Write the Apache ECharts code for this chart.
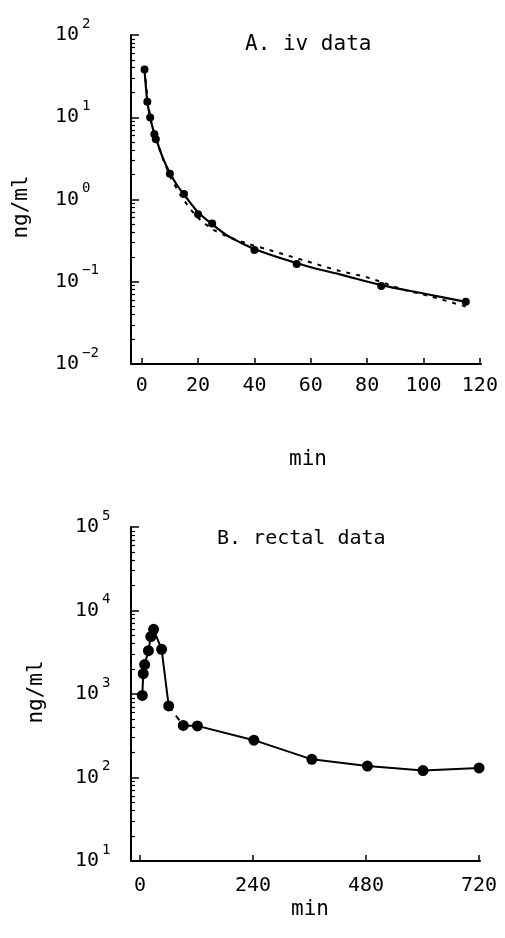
<!DOCTYPE html>
<html>
<head>
<meta charset="utf-8">
<script src="https://cdn.jsdelivr.net/npm/echarts@6/dist/echarts.min.js"></script>
<style>
html,body{margin:0;padding:0;background:#fff;}
#chart{width:505px;height:938px;}
</style>
</head>
<body>
<div id="chart"></div>
<script>
// ---- Panel A: iv data ----
const ivTimes = [1, 2, 3, 4.5, 5, 10, 15, 20, 25, 40, 55, 85, 115];
const ivConc = [38, 15.4, 9.9, 6.2, 5.4, 2.05, 1.17, 0.66, 0.51, 0.244, 0.164, 0.089, 0.057];
const ivFitSolidTimes = [1, 2, 3, 4, 5, 7.5, 10, 12.5, 15, 20, 25, 30, 35, 40, 50, 60, 70, 85, 100, 115];
const ivFitSolid = [38, 15.5, 10, 7.2, 5.6, 3.2, 2.1, 1.5, 1.15, 0.7, 0.5, 0.37, 0.3, 0.25, 0.19, 0.15, 0.124, 0.091, 0.072, 0.057];
const ivFitDotTimes = [1, 3, 5, 10, 15, 20, 25, 30, 38, 45, 58, 70, 80, 94, 100, 115];
const ivFitDot = [38, 10, 5.5, 1.95, 0.98, 0.6, 0.44, 0.36, 0.288, 0.245, 0.18, 0.136, 0.113, 0.078, 0.07, 0.05];
const ivXTicks = [0, 20, 40, 60, 80, 100, 120];
const ivDecades = [-2, -1, 0, 1, 2];

// ---- Panel B: rectal data ----
const rectalTimes = [5, 7, 10, 18, 23, 29, 46, 61, 92, 122, 242, 365, 483, 601, 720];
const rectalConc = [960, 1750, 2250, 3300, 4870, 5960, 3430, 720, 420, 415, 280, 165, 137, 121, 130];
const rectalDashedFrom = 7; // segment 61 -> 92 min drawn dashed
const rectalXTicks = [0, 240, 480, 720];
const rectalDecades = [1, 2, 3, 4, 5];

const FONT = 'DejaVu Sans Mono';
const pairs = (xs, ys) => xs.map((x, i) => [x, ys[i]]);
function minorValues(decades) {
  const out = [];
  for (let i = 0; i < decades.length - 1; i++) {
    for (let m = 2; m <= 9; m++) out.push(m * Math.pow(10, decades[i]));
  }
  return out;
}

function supFmt(v) {
  const e = Math.round(Math.log10(v));
  const s = e < 0 ? '\u2212' + (-e) : String(e);
  return '{b|10}{s|' + s + '}';
}
const rich = {
  b: {fontFamily: FONT, fontSize: 20, lineHeight: 36, verticalAlign: 'middle', color: '#000'},
  s: {fontFamily: FONT, fontSize: 14, lineHeight: 14, verticalAlign: 'top', color: '#000', padding: [0, 0, 0, 3]}
};

function yAxisCfg(grid, decades, margin) {
  return {
    type: 'log', logBase: 10, gridIndex: grid, position: 'left',
    min: Math.pow(10, decades[0]), max: Math.pow(10, decades[decades.length - 1]),
    axisLine: {show: true, onZero: false, lineStyle: {color: '#000', width: 2}},
    axisTick: {show: true, inside: true, length: 8, lineStyle: {color: '#000', width: 1.5}},
    axisLabel: {align: 'left', margin: margin, formatter: supFmt, rich: rich},
    splitLine: {show: false}
  };
}
function yMinorCfg(grid, decades) {
  return {
    type: 'log', logBase: 10, gridIndex: grid, position: 'left', offset: 0,
    min: Math.pow(10, decades[0]), max: Math.pow(10, decades[decades.length - 1]),
    axisLine: {show: false, onZero: false},
    axisTick: {show: true, inside: true, length: 4, customValues: minorValues(decades), lineStyle: {color: '#000', width: 1.2}},
    axisLabel: {show: false},
    splitLine: {show: false}
  };
}
function xAxisCfg(grid, min, max, ticks, margin) {
  return {
    type: 'value', gridIndex: grid, min: min, max: max,
    axisLine: {show: true, onZero: false, lineStyle: {color: '#000', width: 2}},
    axisTick: {show: true, inside: true, length: 6, customValues: ticks, lineStyle: {color: '#000', width: 1.5}},
    axisLabel: {customValues: ticks, margin: margin, fontFamily: FONT, fontSize: 20, color: '#000'},
    splitLine: {show: false}
  };
}

const chart = echarts.init(document.getElementById('chart'), null, {renderer: 'canvas'});
const rPts = pairs(rectalTimes, rectalConc);

chart.setOption({
  backgroundColor: '#fff',
  animation: false,
  grid: [
    {left: 131, right: 24, top: 35, bottom: 574},
    {left: 131, right: 25, top: 527, bottom: 77}
  ],
  xAxis: [
    xAxisCfg(0, -3.8, 120.4, ivXTicks, 12),
    xAxisCfg(1, -19, 722, rectalXTicks, 15)
  ],
  yAxis: [
    yAxisCfg(0, ivDecades, 76),
    yAxisCfg(1, rectalDecades, 56),
    yMinorCfg(0, ivDecades),
    yMinorCfg(1, rectalDecades)
  ],
  graphic: [
    {type: 'text', left: 245, top: 34, style: {text: 'A. iv data', fontFamily: FONT, fontSize: 21, fill: '#000'}},
    {type: 'text', left: 217, top: 529, style: {text: 'B. rectal data', fontFamily: FONT, fontSize: 20, fill: '#000'}},
    {type: 'text', x: 308, y: 460, style: {text: 'min', fontFamily: FONT, fontSize: 21, fill: '#000', align: 'center', verticalAlign: 'middle'}},
    {type: 'text', x: 310, y: 910, style: {text: 'min', fontFamily: FONT, fontSize: 21, fill: '#000', align: 'center', verticalAlign: 'middle'}},
    {type: 'text', x: 22, y: 207, rotation: Math.PI / 2, style: {text: 'ng/ml', fontFamily: FONT, fontSize: 21, fill: '#000', align: 'center', verticalAlign: 'middle'}},
    {type: 'text', x: 37, y: 692, rotation: Math.PI / 2, style: {text: 'ng/ml', fontFamily: FONT, fontSize: 21, fill: '#000', align: 'center', verticalAlign: 'middle'}}
  ],
  series: [
    {type: 'line', xAxisIndex: 0, yAxisIndex: 0, data: pairs(ivFitDotTimes, ivFitDot), smooth: 0.3, showSymbol: false,
     lineStyle: {color: '#000', width: 2, type: [4, 6]}},
    {type: 'line', xAxisIndex: 0, yAxisIndex: 0, data: pairs(ivFitSolidTimes, ivFitSolid), smooth: 0.3, showSymbol: false,
     lineStyle: {color: '#000', width: 2.2}},
    {type: 'scatter', xAxisIndex: 0, yAxisIndex: 0, data: pairs(ivTimes, ivConc), symbol: 'circle', symbolSize: 8,
     itemStyle: {color: '#000', opacity: 1}},
    {type: 'line', xAxisIndex: 1, yAxisIndex: 1, data: rPts.slice(0, rectalDashedFrom + 1), showSymbol: false,
     lineStyle: {color: '#000', width: 2}},
    {type: 'line', xAxisIndex: 1, yAxisIndex: 1, data: rPts.slice(rectalDashedFrom, rectalDashedFrom + 2), showSymbol: false,
     lineStyle: {color: '#000', width: 2, type: [6, 6]}},
    {type: 'line', xAxisIndex: 1, yAxisIndex: 1, data: rPts.slice(rectalDashedFrom + 1), showSymbol: false,
     lineStyle: {color: '#000', width: 2}},
    {type: 'scatter', xAxisIndex: 1, yAxisIndex: 1, data: rPts, symbol: 'circle', symbolSize: 11,
     itemStyle: {color: '#000', opacity: 1}}
  ]
});
</script>
</body>
</html>
